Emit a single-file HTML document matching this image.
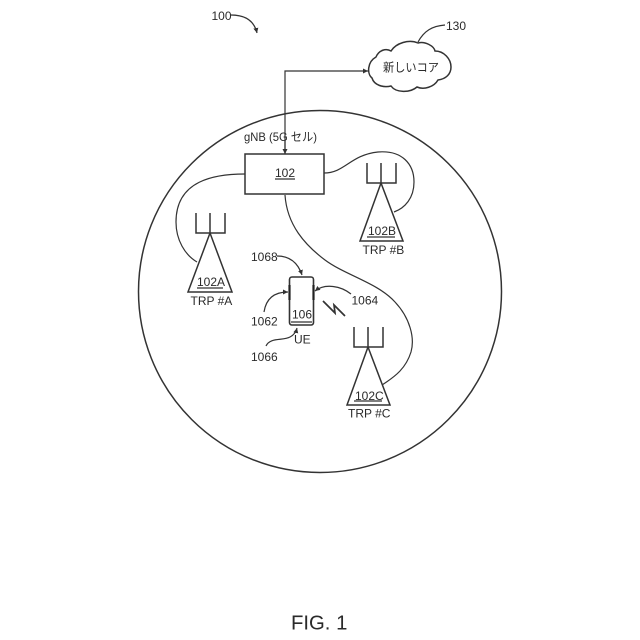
<!DOCTYPE html>
<html>
<head>
<meta charset="utf-8">
<style>
html,body{margin:0;padding:0;background:#fff;width:640px;height:640px;overflow:hidden}
svg{display:block}
text{font-family:"Liberation Sans","Noto Sans CJK JP",sans-serif;fill:#2a2a2a;font-size:12px}
.l{fill:none;stroke:#333;stroke-width:1.2}
.t{fill:none;stroke:#333;stroke-width:1.5}
</style>
</head>
<body>
<svg width="640" height="640" viewBox="0 0 640 640" xmlns="http://www.w3.org/2000/svg">
<defs>
<marker id="a" markerUnits="userSpaceOnUse" markerWidth="6" markerHeight="5" refX="5" refY="2.500" orient="auto"><path d="M0 0L5 2.500L0 5Z" fill="#333"/></marker>
</defs>
<ellipse class="t" cx="320" cy="291.500" rx="181.500" ry="181"/>

<text x="211.500" y="20">100</text>
<path class="l" d="M231 15C244 15 254 20 257 33" marker-end="url(#a)"/>

<path class="t" d="M376 57C379 50 386 48 391 51C396 43 409 39 418 43C425 41 434 46 435 51C444 51 451 59 451 67C451 74 446 79 438 80C434 87 424 90 417 87C410 93 396 93 391 86C383 88 374 85 372 78C367 74 367 62 376 57Z"/>
<text x="383" y="71.500" textLength="56" lengthAdjust="spacingAndGlyphs">新しいコア</text>
<path class="l" d="M418 42C424 31 432 26 445 25"/>
<text x="446" y="30">130</text>

<path class="l" d="M285 154V71H368" marker-end="url(#a)"/>
<path class="l" d="M285 140V154" marker-end="url(#a)"/>
<text x="244" y="141" textLength="73" lengthAdjust="spacingAndGlyphs">gNB (5G セル)</text>
<rect class="t" x="245" y="154" width="79" height="40"/>
<text x="275" y="177">102</text>
<path class="l" d="M275 179H295"/>

<!-- connectors -->
<path class="l" d="M245 174C215 174 176 180 176 222C176 240 185 255 197 262"/>
<path class="l" d="M324 173C345 173 350 155 378 152C402 150 414 164 414 182C414 198 405 208 394 212"/>
<path class="l" d="M285 195C287 225 305 245 325 260C345 275 378 283 395 302C410 318 415 338 411 352C406 368 396 376 382 385"/>

<!-- TRP A -->
<path class="t" d="M196 213V233H225V213M210 213V235M210 233L188 292H232Z"/>
<text x="197" y="286">102A</text>
<path class="l" d="M197 288H223"/>
<text x="190.500" y="305">TRP #A</text>

<!-- TRP B -->
<path class="t" d="M367 163V183H396V163M381 163V185M381 183L360 241H403Z"/>
<text x="368" y="235">102B</text>
<path class="l" d="M367 237H395"/>
<text x="362.500" y="254">TRP #B</text>

<!-- TRP C -->
<path class="t" d="M354 327V347H383V327M368 327V349M368 347L347 405H390Z"/>
<text x="355" y="400">102C</text>
<path class="l" d="M354 401H382"/>
<text x="348" y="417.500">TRP #C</text>

<!-- UE -->
<rect x="289.500" y="277" width="24" height="48" rx="2.500" fill="#fff" stroke="#333" stroke-width="1.600"/>
<path d="M289.500 285V300M313.500 285V300" stroke="#222" stroke-width="2.200" fill="none"/>
<text x="292" y="318.500">106</text>
<path class="l" d="M291 322H312"/>
<text x="294" y="343.500">UE</text>

<text x="251" y="261">1068</text>
<path class="l" d="M277 256C290 256 298 263 302 275" marker-end="url(#a)"/>
<text x="251" y="325.500">1062</text>
<path class="l" d="M264 312C266 299 274 292 288 292" marker-end="url(#a)"/>
<text x="351.500" y="304.500">1064</text>
<path class="l" d="M351 294C341 286 325 283 315 291" marker-end="url(#a)"/>
<text x="251" y="361">1066</text>
<path class="l" d="M266 346C270 337 283 341 290 337C294 335 296 332 297 328" marker-end="url(#a)"/>
<path class="l" d="M323 301L335 313L334 305L345 316" style="stroke-width:1.700"/>

<text x="291" y="629.500" style="font-size:20.300px">FIG. 1</text>
</svg>
</body>
</html>
